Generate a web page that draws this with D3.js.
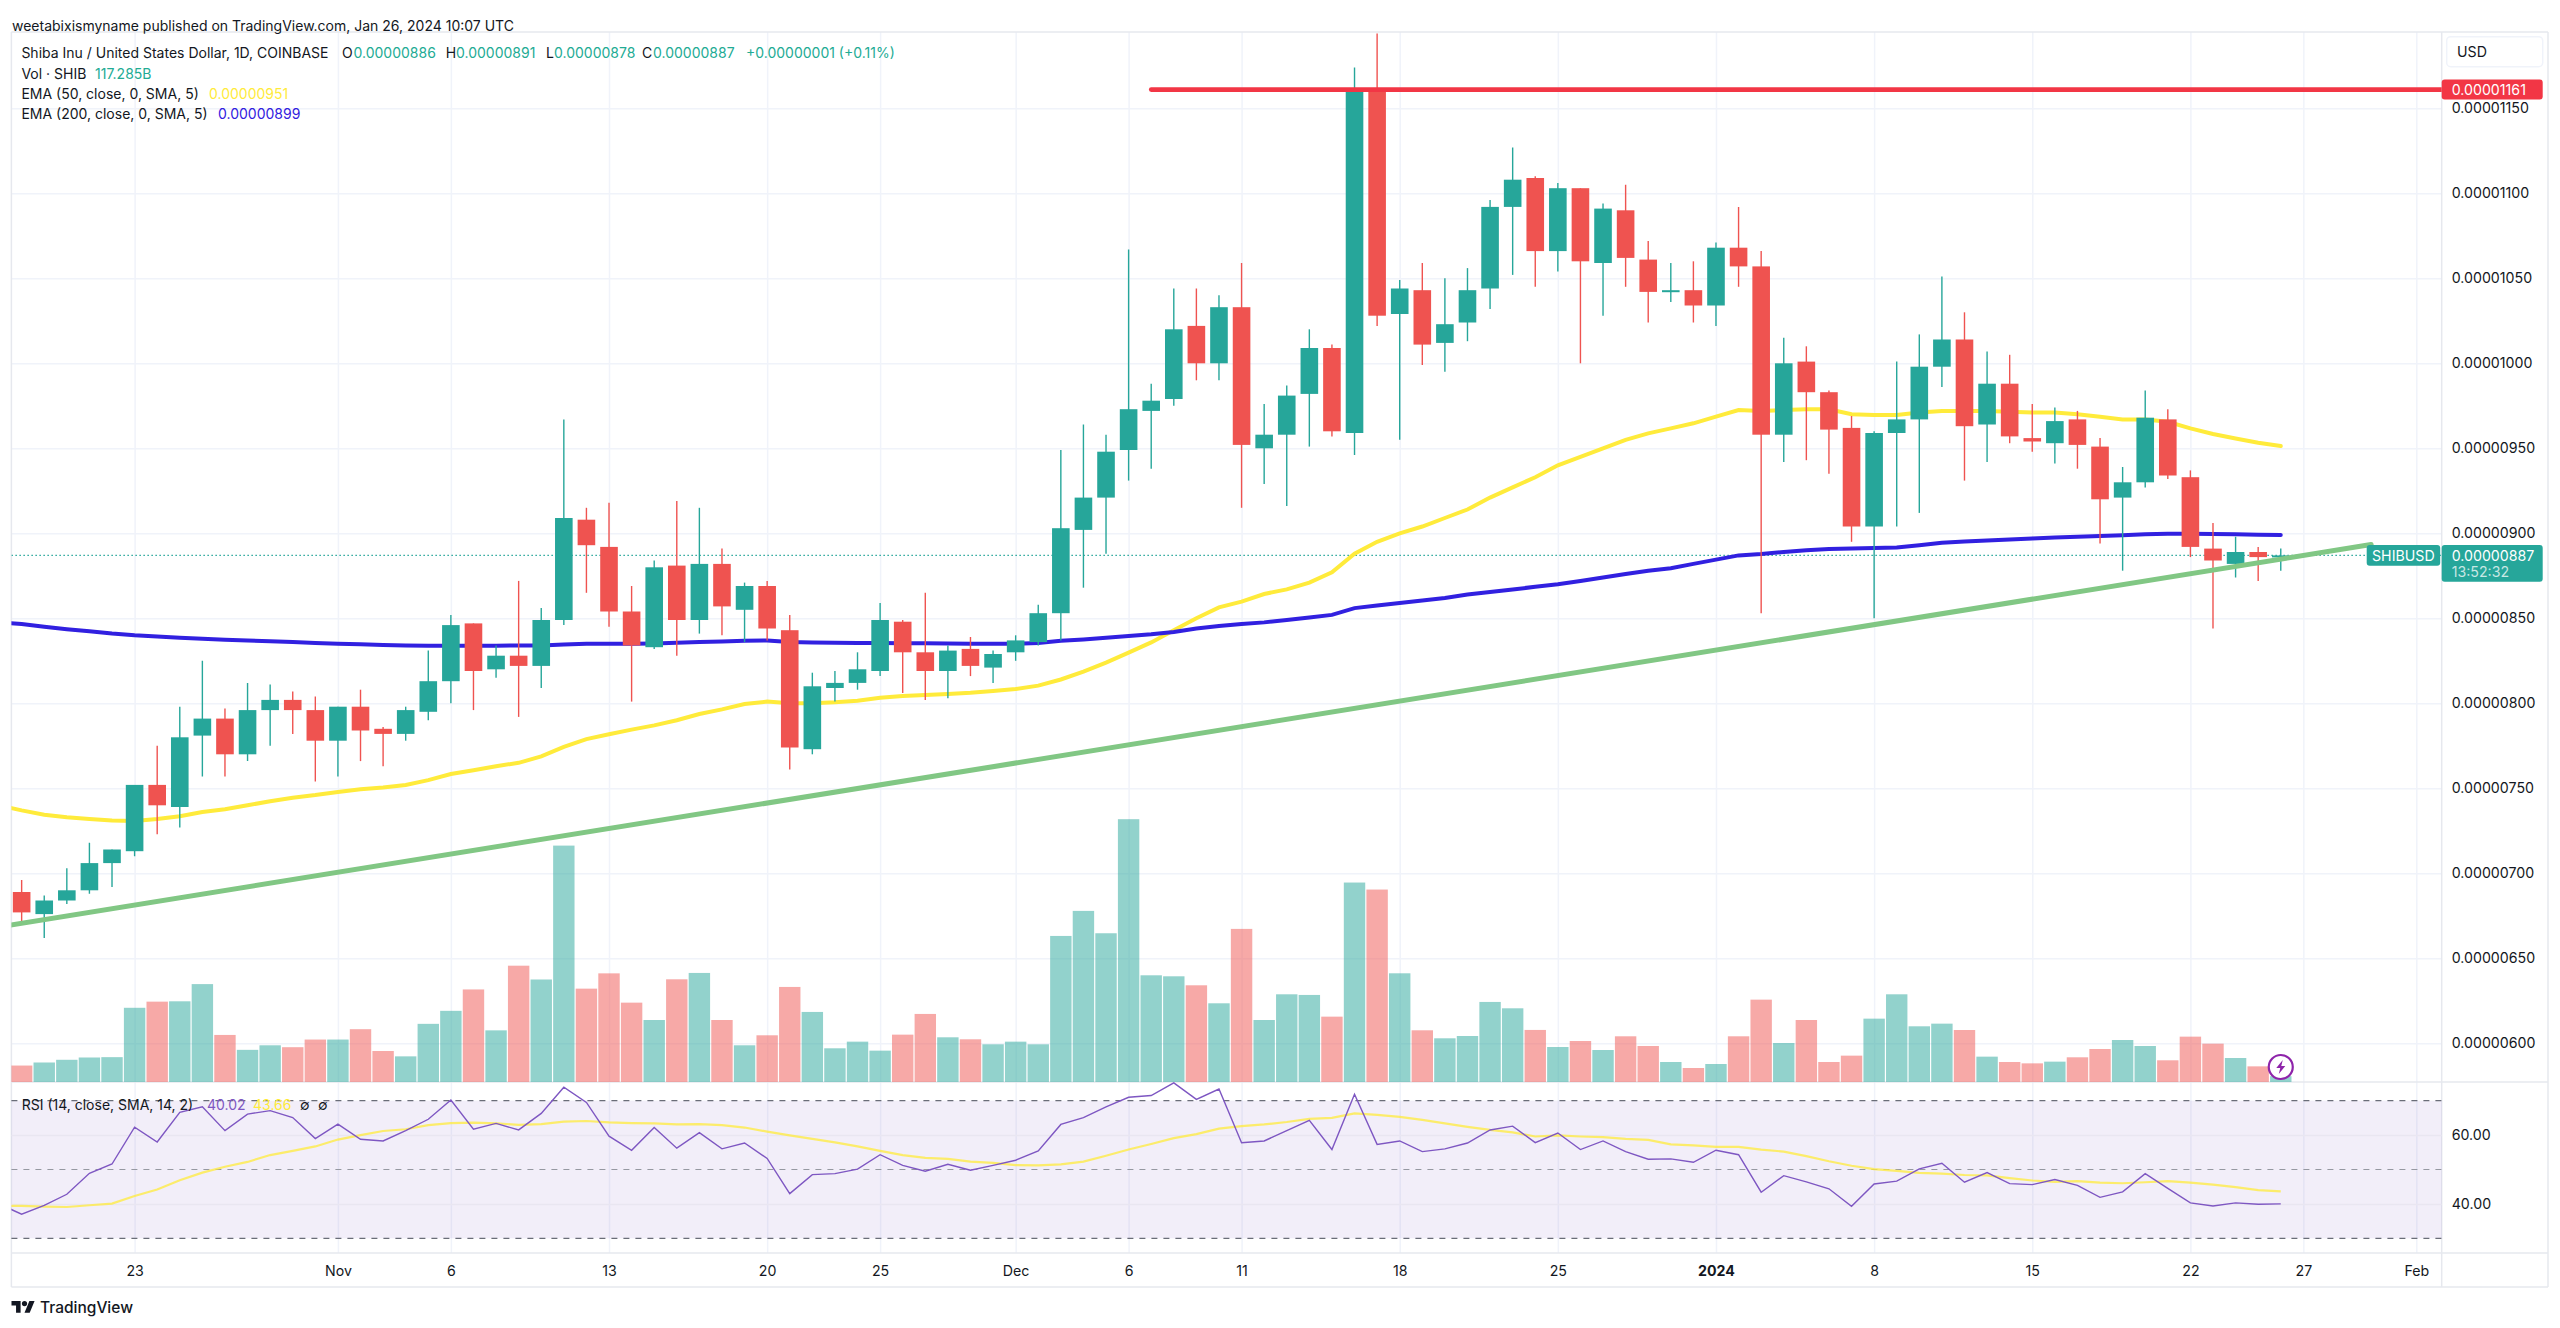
<!DOCTYPE html>
<html>
<head>
<meta charset="utf-8">
<script src="https://cdn.jsdelivr.net/npm/d3@7"></script>
<style>
  html, body { margin: 0; background: #fff; }
  svg { display: block; font-family: Inter, "Noto Sans", sans-serif; }
  .axis text { font-family: Inter, sans-serif; font-size: 14.2px; fill: #131722; }
  .axis .domain { display: none; }
  .grid line { stroke: #f0f3fa; stroke-width: 1.5; }
  .grid .domain { display: none; }
  .grid text { display: none; }
  .frame { stroke: #e6e8ee; stroke-width: 1.5; fill: none; }
</style>
</head>
<body>
<svg id="chart" width="2560" height="1328"></svg>
<script>
// prices are in units of 0.00000001 USD, one candle a day from Oct 18
const firstDay = new Date(Date.UTC(2023, 9, 18));

const open = [689,676,684,690,706,713,752,739,781,791,770,796,802,796,778,798,785,782,795,813,847,820,828,822,849,908,892,854,
  833,881,849,882,855,869,843,773,809,812,819,848,830,819,832,821,830,836,853,902,921,949,972,979,1022,1000,1033,950,958,982,1009,959,1161,
  1029,1043,1012,1024,1044,1092,1109,1066,1103,1059,1090,1061,1042,1043,1034,1068,1057,958,1001,983,962,904,959,967,998,1014,964,988,956,953,967,951,921,930,967,933,891,882,889,886];
const high = [696,687,703,718,714,752,775,798,825,797,812,811,807,804,798,808,786,798,831,852,847,834,872,856,967,915,918,869,
  884,919,915,891,871,872,852,818,819,830,859,849,865,834,839,831,840,858,949,964,958,1067,988,1044,1044,1040,1059,976,987,1020,1011,1174,1194,
  1049,1059,1050,1056,1096,1127,1110,1106,1103,1094,1105,1072,1059,1060,1071,1092,1066,1015,1010,984,969,960,1001,1017,1051,1030,1007,1005,976,974,972,956,939,984,973,937,906,898,892,891];
const low = [671,662,682,688,692,710,723,727,757,757,766,775,782,754,757,766,763,778,790,800,796,815,792,809,846,865,845,801,
  832,828,841,840,836,837,761,770,801,808,816,806,802,803,816,812,825,834,837,868,888,931,938,975,990,990,915,929,916,951,957,946,1022,
  955,999,995,1013,1032,1052,1045,1054,1000,1028,1045,1024,1036,1024,1022,1045,853,942,943,935,895,850,904,912,986,931,942,953,948,941,938,894,878,927,932,886,844,874,872,878];
const close = [677,684,690,706,714,752,740,780,791,770,796,802,796,778,798,784,782,796,813,846,819,828,822,849,909,893,854,834,
  880,849,882,857,869,844,774,810,812,820,849,830,819,831,822,829,837,853,903,921,948,973,978,1020,1000,1033,952,958,981,1009,960,1161,1028,
  1044,1011,1023,1043,1092,1108,1066,1103,1060,1091,1062,1042,1043,1034,1068,1057,958,1000,983,961,904,959,967,998,1014,963,988,957,954,966,952,920,930,968,934,892,884,889,886,887];
// billions of SHIB
const volume = [329,390,444,490,497,1484,1607,1614,1958,941,643,734,696,849,849,1056,620,513,1163,1423,1851,1033,2326,2050,4728,1867,2173,1587,
  1240,2054,2181,1240,734,934,1901,1401,674,807,627,947,1361,894,854,754,807,754,2921,3422,2975,5256,2134,2114,1934,1574,3062,1240,1754,1741,1307,3989,3849,
  2174,1034,874,920,1601,1474,1041,700,820,640,914,720,400,280,360,914,1647,780,1240,400,527,1267,1754,1114,1167,1040,507,400,373,407,494,660,840,720,434,907,767,480,313,117];

// the overlays start one day earlier, that point sits behind the left edge
const ema50 = [740,737,734.5,733,732,731,730.7,732,733.6,736,737.7,740,742.4,744.5,746,747.8,749.4,750.5,752,754.8,758.4,760.6,763,765,768.8,774.4,778.9,781.8,784.5,
  787,790,793.7,796.4,799.6,801,800,800,800.6,801.5,803.3,804.3,804.9,805.5,806.2,807.2,808.4,810.4,814,818.6,823.9,829.8,835.8,843,850,856.4,859.8,864.3,867,871,877,888,895,
  900,904,909,914,921,927,933,940,945,950,955,958.8,961.7,964.7,968.6,972.5,972,972.5,972.9,972.9,970,969.6,969.6,971,972,972,972,971.5,971,971,970,968.6,967,967,965.6,961.7,958.4,955.8,953.3,951.3];
const ema200 = [847.6,846.6,845,843.6,842.4,841,840,839.3,838.6,838,837.4,837,836.5,836,835.5,835,834.7,834.3,834,833.9,833.8,833.9,833.9,834,834,834.6,835,835,835,
  835.2,835.6,836,836.4,836.8,837,836,835.8,835.6,835.5,835.4,835.3,835.3,835.2,835.1,835,835,835.5,836.8,837.6,838.6,839.6,840.6,842,844,845.5,846.6,847.6,849,850.5,852,856,857.5,
  859,860.5,862,864,865.5,867,868.5,870,872,874,876,878,879.5,882,884.5,887,887.8,889,890,890.7,891,891.3,891.7,893,894.5,895.2,895.8,896.4,897,897.5,898,898.4,898.8,899.4,899.8,899.8,899.6,899.4,899.2,899];
const rsi = [40,37,39.6,42.8,48.9,51.6,62.3,58,66.6,68.2,61.3,66.1,67.1,65.1,59,63.2,58.8,58.3,61.3,64.6,70.2,61.7,63.4,61.5,66.3,73.9,69.5,59.7,55.6,
  62.2,56.2,60.7,56,57.7,53.2,43,48.5,48.8,50.1,54.3,51.2,49.5,51.5,49.8,51.2,52.7,55.4,63.1,65.1,68.2,71,71.5,75.2,70.4,73.4,57.8,58.3,61.3,64.3,55.8,71.9,57.3,
  58.3,55.2,56,57.7,61.5,62.6,57.8,60.6,55.8,58.3,55.2,53,53.1,52.1,55.6,54.3,43.4,48.2,46.4,44.4,39.3,45.8,46.6,50.2,51.8,46.3,49.1,45.9,45.6,47.1,45.4,41.9,43.5,48.8,44.5,40.3,39.4,40.3,39.9,40.02];
const rsiMa = [39.5,39.4,39.2,39.1,39.6,40.1,42.3,44.2,46.9,49.1,50.8,52.2,54.2,55.4,56.7,58.7,60,61.2,61.7,62.9,63.5,63.6,63.4,63,63.2,63.9,64.1,63.7,63.5,
  63.4,63.1,63.2,62.9,62.2,61,59.9,58.9,57.9,56.7,55.4,54.2,53.4,53.1,52.3,51.9,51.3,51.2,51.5,52.3,54,55.8,57.4,59.1,60.3,61.9,62.6,63.1,63.8,64.7,65,66.3,65.9,
  65.3,64.4,63.4,62.4,61.5,60.8,59.6,59.9,59.6,59.4,58.9,58.6,57.3,57,56.6,56.6,55.8,55.2,53.9,52.4,51.1,50.1,49.6,49,48.8,48.4,48.3,47.5,46.8,46.4,46.6,46.2,46,46.3,46.6,46.2,45.6,44.9,44,43.66];

const trendDates = [new Date(Date.UTC(2023, 9, 17)), new Date(Date.UTC(2024, 0, 30))];
const trendPrices = [668.5, 893.4];
const resistanceStart = new Date(Date.UTC(2023, 11, 7));
const resistance = 1161;
const lastPrice = 887;

const priceTicks = [600,650,700,750,800,850,900,950,1000,1050,1100,1150];
const rsiTicks = [40,60];
const rsiBands = [30,50,70];
const timeTicks = [[2023,9,23],[2023,10,1],[2023,10,6],[2023,10,13],[2023,10,20],[2023,10,25],[2023,11,1],[2023,11,6],[2023,11,11],[2023,11,18],[2023,11,25],[2024,0,1],[2024,0,8],[2024,0,15],[2024,0,22],[2024,0,27],[2024,1,1]]
  .map(d => new Date(Date.UTC(d[0], d[1], d[2])));
const timeLabels = ['23','Nov','6','13','20','25','Dec','6','11','18','25','2024','8','15','22','27','Feb'];

const green = '#26a69a', red = '#ef5350';
const paneLeft = 11.4, paneRight = 2441.7, outerRight = 2548;
const paneTop = 32, volBottom = 1082, rsiBottom = 1253, timeBottom = 1287;

const svg = d3.select('#chart');

const x = d3.scaleUtc()
  .domain([new Date(Date.UTC(2023, 9, 23)), new Date(Date.UTC(2024, 0, 22))])
  .range([134.6, 2190.4]);
const y = d3.scaleLinear().domain([600, 1150]).range([1043.3, 108.3]);
const yVol = d3.scaleLinear().domain([0, 5600]).range([volBottom, volBottom - 280]);
const yRsi = d3.scaleLinear().domain([30, 70]).range([1238.3, 1100.7]);

const day = i => d3.utcDay.offset(firstDay, i);
const candles = close.map((c, i) => ({ date: day(i), o: open[i], h: high[i], l: low[i], c: c, v: volume[i], up: c >= open[i] }));

svg.append('rect').attr('width', 2560).attr('height', 1328).attr('fill', '#fff');

const defs = svg.append('defs');
defs.append('clipPath').attr('id', 'mainClip').append('rect')
  .attr('x', paneLeft).attr('y', paneTop).attr('width', paneRight - paneLeft).attr('height', volBottom - paneTop);
defs.append('clipPath').attr('id', 'rsiClip').append('rect')
  .attr('x', paneLeft).attr('y', volBottom).attr('width', paneRight - paneLeft).attr('height', rsiBottom - volBottom);

// grids
svg.append('g').attr('class', 'grid').attr('transform', `translate(${paneLeft},0)`)
  .call(d3.axisLeft(y).tickValues(priceTicks).tickSize(-(paneRight - paneLeft)));
svg.append('g').attr('class', 'grid').attr('transform', `translate(0,${volBottom})`)
  .call(d3.axisBottom(x).tickValues(timeTicks).tickSize(-(volBottom - paneTop)));
svg.append('g').attr('class', 'grid').attr('transform', `translate(0,${rsiBottom})`)
  .call(d3.axisBottom(x).tickValues(timeTicks).tickSize(-(rsiBottom - volBottom)));

// frame
const frame = svg.append('g').attr('class', 'frame');
[[paneLeft, paneTop, outerRight, paneTop], [paneLeft, volBottom, outerRight, volBottom], [paneLeft, rsiBottom, outerRight, rsiBottom], [paneLeft, timeBottom, outerRight, timeBottom],
 [paneLeft, paneTop, paneLeft, timeBottom], [paneRight, paneTop, paneRight, timeBottom], [outerRight, paneTop, outerRight, timeBottom]]
  .forEach(l => frame.append('line').attr('x1', l[0]).attr('y1', l[1]).attr('x2', l[2]).attr('y2', l[3]));

// volume
const main = svg.append('g').attr('clip-path', 'url(#mainClip)');
main.selectAll('.vol').data(candles).join('rect')
  .attr('class', 'vol')
  .attr('x', d => x(d.date) - 10.7)
  .attr('width', 21.4)
  .attr('y', d => yVol(d.v))
  .attr('height', d => yVol(0) - yVol(d.v))
  .attr('fill', d => d.up ? green : red)
  .attr('fill-opacity', 0.5);

// dotted last price
main.append('line')
  .attr('x1', paneLeft).attr('x2', paneRight)
  .attr('y1', y(lastPrice)).attr('y2', y(lastPrice))
  .attr('stroke', green).attr('stroke-width', 1.2).attr('stroke-dasharray', '1.5 2.5');

// moving averages
const overlayLine = d3.line().x((d, i) => x(day(i - 1))).y(d => y(d));
main.append('path').attr('d', overlayLine(ema50)).attr('fill', 'none').attr('stroke', '#ffeb3b').attr('stroke-width', 4).attr('stroke-linecap', 'round');
main.append('path').attr('d', overlayLine(ema200)).attr('fill', 'none').attr('stroke', '#3120e0').attr('stroke-width', 4).attr('stroke-linecap', 'round');

// candles
const candle = main.selectAll('.candle').data(candles).join('g').attr('class', 'candle');
candle.append('line')
  .attr('x1', d => x(d.date)).attr('x2', d => x(d.date))
  .attr('y1', d => y(d.h)).attr('y2', d => y(d.l))
  .attr('stroke', d => d.up ? green : red)
  .attr('stroke-width', 1.4);
candle.append('rect')
  .attr('x', d => x(d.date) - 8.8)
  .attr('width', 17.6)
  .attr('y', d => y(Math.max(d.o, d.c)))
  .attr('height', d => Math.max(2, Math.abs(y(d.o) - y(d.c))))
  .attr('fill', d => d.up ? green : red);

// drawn lines
main.append('path')
  .attr('d', d3.line().x((d, i) => x(trendDates[i])).y(d => y(d))(trendPrices))
  .attr('fill', 'none').attr('stroke', '#81c784').attr('stroke-width', 5).attr('stroke-linecap', 'round');
main.append('line')
  .attr('x1', x(resistanceStart)).attr('x2', paneRight)
  .attr('y1', y(resistance)).attr('y2', y(resistance))
  .attr('stroke', '#f23645').attr('stroke-width', 4.6).attr('stroke-linecap', 'round');

// rsi pane
svg.append('rect')
  .attr('x', paneLeft).attr('width', paneRight - paneLeft)
  .attr('y', yRsi(70)).attr('height', yRsi(30) - yRsi(70))
  .attr('fill', '#7e57c2').attr('fill-opacity', 0.1);
svg.append('g').attr('class', 'grid').attr('transform', `translate(${paneLeft},0)`)
  .call(d3.axisLeft(yRsi).tickValues(rsiTicks).tickSize(-(paneRight - paneLeft)))
  .selectAll('line').attr('stroke', '#e9e6f1').style('stroke', '#e9e6f1');
svg.selectAll('.band').data(rsiBands).join('line')
  .attr('class', 'band')
  .attr('x1', paneLeft).attr('x2', paneRight)
  .attr('y1', d => yRsi(d)).attr('y2', d => yRsi(d))
  .attr('stroke', d => d === 50 ? '#9598a1' : '#6a6d78')
  .attr('stroke-width', 1.2)
  .attr('stroke-dasharray', '6 6');

const rsiG = svg.append('g').attr('clip-path', 'url(#rsiClip)');
const rsiLine = d3.line().x((d, i) => x(day(i - 1))).y(d => yRsi(d));
rsiG.append('path').attr('d', rsiLine(rsiMa)).attr('fill', 'none').attr('stroke', '#ffeb3b').attr('stroke-opacity', 0.75).attr('stroke-width', 2.2);
rsiG.append('path').attr('d', rsiLine(rsi)).attr('fill', 'none').attr('stroke', '#7e57c2').attr('stroke-width', 1.4);

// axes
svg.append('g').attr('class', 'axis').attr('transform', `translate(${paneRight},0)`)
  .call(d3.axisRight(y).tickValues(priceTicks).tickSize(0).tickPadding(10).tickFormat(d => (d * 1e-8).toFixed(8)));
svg.append('g').attr('class', 'axis').attr('transform', `translate(${paneRight},0)`)
  .call(d3.axisRight(yRsi).tickValues(rsiTicks).tickSize(0).tickPadding(10).tickFormat(d => d.toFixed(2)));
const timeAxis = svg.append('g').attr('class', 'axis').attr('transform', `translate(0,${rsiBottom})`)
  .call(d3.axisBottom(x).tickValues(timeTicks).tickSize(0).tickPadding(13).tickFormat((d, i) => timeLabels[i]));
timeAxis.selectAll('text').style('font-weight', (d, i) => timeLabels[i] === '2024' ? 700 : 400);

// price labels
const label = (t, px, py, fill, size, weight) => svg.append('text')
  .attr('x', px).attr('y', py).attr('dy', '0.36em')
  .attr('fill', fill).attr('font-size', size || 14).attr('font-weight', weight || 400)
  .text(t);

svg.append('rect').attr('x', 2446.7).attr('y', 36.7).attr('width', 96).attr('height', 30).attr('rx', 4)
  .attr('fill', '#fff').attr('stroke', '#f0f3fa').attr('stroke-width', 1.5);
label('USD', 2457, 52, '#131722', 14.2);

svg.append('rect').attr('x', paneRight).attr('y', y(resistance) - 10).attr('width', 101).attr('height', 20).attr('rx', 3).attr('fill', '#f23645');
label((resistance * 1e-8).toFixed(8), 2451.7, y(resistance), '#fff', 14.2);

svg.append('rect').attr('x', 2366.7).attr('y', 545).attr('width', 73.5).attr('height', 20.7).attr('rx', 3).attr('fill', green);
label('SHIBUSD', 2372, y(lastPrice), '#fff', 14.2);
svg.append('rect').attr('x', paneRight).attr('y', 545).attr('width', 101).attr('height', 36.7).attr('rx', 3).attr('fill', green);
label((lastPrice * 1e-8).toFixed(8), 2451.7, y(lastPrice), '#fff', 14.2);
label('13:52:32', 2451.7, 572, '#fff', 14.2).attr('fill-opacity', 0.75);

// header and legends
label('weetabixismyname published on TradingView.com, Jan 26, 2024 10:07 UTC', 12, 26, '#131722');

const legendValue = '#22ab94';
label('Shiba Inu / United States Dollar, 1D, COINBASE', 21.4, 53.3, '#131722');
label('O', 342, 53.3, '#131722');
label('0.00000886', 353.5, 53.3, legendValue);
label('H', 445.7, 53.3, '#131722');
label('0.00000891', 456, 53.3, legendValue);
label('L', 546, 53.3, '#131722');
label('0.00000878', 554, 53.3, legendValue);
label('C', 642, 53.3, '#131722');
label('0.00000887', 653, 53.3, legendValue);
label('+0.00000001 (+0.11%)', 746, 53.3, legendValue);
label('Vol · SHIB', 21.4, 73.7, '#131722');
label('117.285B', 95, 73.7, legendValue);
label('EMA (50, close, 0, SMA, 5)', 21.4, 94, '#131722');
label('0.00000951', 209, 94, '#ffeb3b');
label('EMA (200, close, 0, SMA, 5)', 21.4, 114, '#131722');
label('0.00000899', 218, 114, '#3120e0');

label('RSI (14, close, SMA, 14, 2)', 21.7, 1105, '#131722');
label('40.02', 207, 1105, '#7e57c2');
label('43.66', 253, 1105, '#ffeb3b');
label('∅', 300, 1105, '#131722');
label('∅', 318, 1105, '#131722');

// bolt badge on the last bar
const bolt = svg.append('g').attr('transform', `translate(${x(day(100))},1067)`);
bolt.append('circle').attr('r', 12).attr('fill', '#fff').attr('stroke', '#8e24aa').attr('stroke-width', 2.2);
bolt.append('path').attr('d', 'M2,-7 L-4.5,1 L-0.5,1 L-2,7 L4.5,-1 L0.5,-1 Z').attr('fill', '#8e24aa');

// logo
const logo = svg.append('g').attr('transform', 'translate(11.5,1301) scale(0.65)').attr('fill', '#131722');
logo.append('path').attr('d', 'M14 18H7V7H0V0h14v18zM28 18h-8l7.5-18h8L28 18z');
logo.append('circle').attr('cx', 20).attr('cy', 4).attr('r', 4);
label('TradingView', 40, 1307, '#131722', 15.5, 500);
</script>
</body>
</html>
